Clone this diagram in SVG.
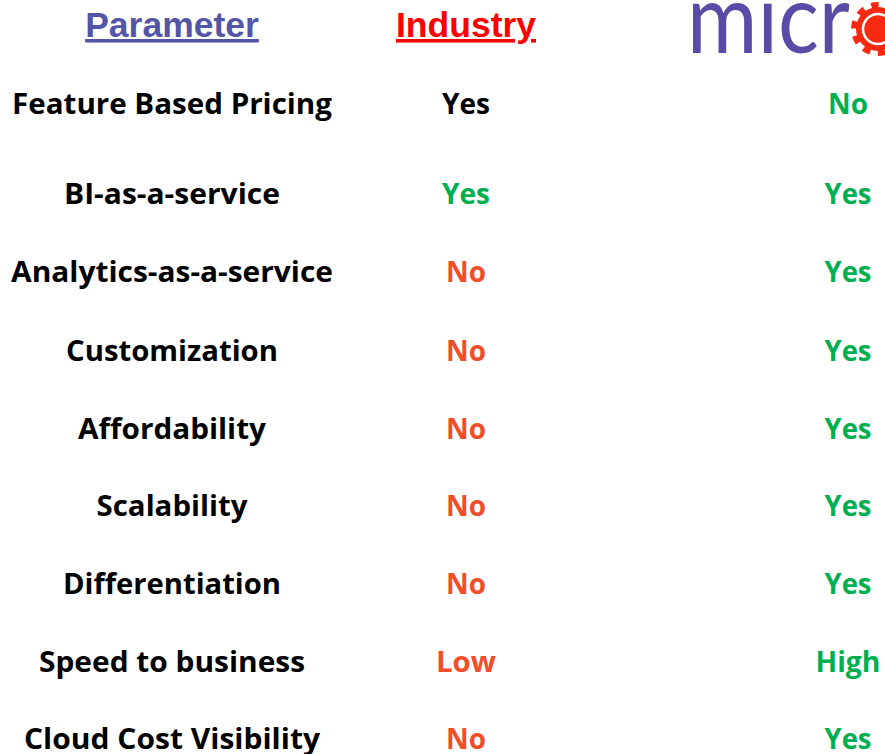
<svg xmlns="http://www.w3.org/2000/svg" width="885" height="754" viewBox="0 0 885 754">
<style>
.b{font-family:"Open Sans","Noto Sans",sans-serif;font-weight:bold;font-size:29px;text-anchor:middle}
.h{font-family:"Liberation Sans",Arial,sans-serif;font-weight:bold;font-size:35.5px;text-anchor:middle;text-decoration:underline}
.k{fill:#000}
.g{fill:#00B050}
.r{fill:#F04E2A}
</style>
<rect width="885" height="754" fill="#fff"/>
<g id="header">
<text class="h" x="172" y="37" fill="#5356A6">Parameter</text>
<text class="h" x="466" y="37" fill="#FF0000">Industry</text>
<g id="logo">
<text x="687" y="53" font-family="Lato,'Open Sans',sans-serif" font-size="96" fill="#5A4CA6" textLength="163" lengthAdjust="spacingAndGlyphs">micr</text>
<circle cx="878" cy="29" r="22" fill="#F52A10"/>
<circle cx="878" cy="29" r="24" fill="none" stroke="#F52A10" stroke-width="6" stroke-dasharray="7.5 7.58"/>
<circle cx="878" cy="29" r="15" fill="none" stroke="#fff" stroke-width="2.5"/>
</g>
</g>
<g id="row1">
<text class="b k" x="172" y="114" textLength="320" lengthAdjust="spacingAndGlyphs">Feature Based Pricing</text>
<text class="b k" x="466" y="114" textLength="48" lengthAdjust="spacingAndGlyphs">Yes</text>
<text class="b g" x="848" y="114" textLength="40" lengthAdjust="spacingAndGlyphs">No</text>
</g>
<g id="row2">
<text class="b k" x="172" y="204" textLength="216" lengthAdjust="spacingAndGlyphs">BI-as-a-service</text>
<text class="b g" x="466" y="204" textLength="48" lengthAdjust="spacingAndGlyphs">Yes</text>
<text class="b g" x="848" y="204" textLength="47" lengthAdjust="spacingAndGlyphs">Yes</text>
</g>
<g id="row3">
<text class="b k" x="172" y="282" textLength="322" lengthAdjust="spacingAndGlyphs">Analytics-as-a-service</text>
<text class="b r" x="466" y="282" textLength="40" lengthAdjust="spacingAndGlyphs">No</text>
<text class="b g" x="848" y="282" textLength="47" lengthAdjust="spacingAndGlyphs">Yes</text>
</g>
<g id="row4">
<text class="b k" x="172" y="361" textLength="212" lengthAdjust="spacingAndGlyphs">Customization</text>
<text class="b r" x="466" y="361" textLength="40" lengthAdjust="spacingAndGlyphs">No</text>
<text class="b g" x="848" y="361" textLength="47" lengthAdjust="spacingAndGlyphs">Yes</text>
</g>
<g id="row5">
<text class="b k" x="172" y="439" textLength="188" lengthAdjust="spacingAndGlyphs">Affordability</text>
<text class="b r" x="466" y="439" textLength="40" lengthAdjust="spacingAndGlyphs">No</text>
<text class="b g" x="848" y="439" textLength="47" lengthAdjust="spacingAndGlyphs">Yes</text>
</g>
<g id="row6">
<text class="b k" x="172" y="516" textLength="151" lengthAdjust="spacingAndGlyphs">Scalability</text>
<text class="b r" x="466" y="516" textLength="40" lengthAdjust="spacingAndGlyphs">No</text>
<text class="b g" x="848" y="516" textLength="47" lengthAdjust="spacingAndGlyphs">Yes</text>
</g>
<g id="row7">
<text class="b k" x="172" y="594" textLength="218" lengthAdjust="spacingAndGlyphs">Differentiation</text>
<text class="b r" x="466" y="594" textLength="40" lengthAdjust="spacingAndGlyphs">No</text>
<text class="b g" x="848" y="594" textLength="47" lengthAdjust="spacingAndGlyphs">Yes</text>
</g>
<g id="row8">
<text class="b k" x="172" y="672" textLength="266" lengthAdjust="spacingAndGlyphs">Speed to business</text>
<text class="b r" x="466" y="672" textLength="60" lengthAdjust="spacingAndGlyphs">Low</text>
<text class="b g" x="848" y="672" textLength="65" lengthAdjust="spacingAndGlyphs">High</text>
</g>
<g id="row9">
<text class="b k" x="172" y="749" textLength="296" lengthAdjust="spacingAndGlyphs">Cloud Cost Visibility</text>
<text class="b r" x="466" y="749" textLength="40" lengthAdjust="spacingAndGlyphs">No</text>
<text class="b g" x="848" y="749" textLength="47" lengthAdjust="spacingAndGlyphs">Yes</text>
</g>
</svg>
